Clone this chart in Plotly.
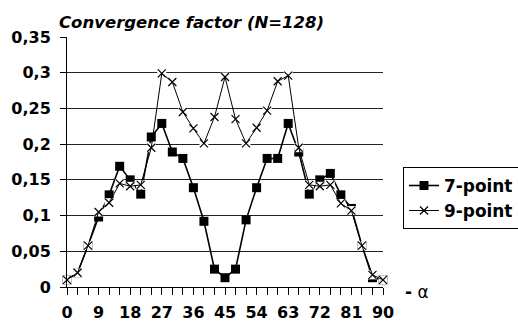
import plotly.graph_objects as go

alpha = list(range(0, 91, 3))
seven_point = [0.010, 0.020, 0.058, 0.098, 0.129, 0.169, 0.150, 0.130, 0.210, 0.229,
               0.189, 0.180, 0.139, 0.092, 0.025, 0.013, 0.025, 0.094, 0.139, 0.180,
               0.180, 0.229, 0.189, 0.130, 0.150, 0.159, 0.129, 0.110, 0.058, 0.013, 0.010]
nine_point = [0.010, 0.020, 0.058, 0.105, 0.118, 0.145, 0.141, 0.143, 0.195, 0.299,
              0.287, 0.245, 0.222, 0.201, 0.238, 0.294, 0.235, 0.201, 0.223, 0.247,
              0.288, 0.296, 0.195, 0.143, 0.141, 0.143, 0.117, 0.107, 0.058, 0.017, 0.010]

x_tick_vals = alpha
x_tick_text = [str(v) if v % 9 == 0 else "" for v in alpha]
y_tick_vals = [0, 0.05, 0.1, 0.15, 0.2, 0.25, 0.3, 0.35]
y_tick_text = ["0", "0,05", "0,1", "0,15", "0,2", "0,25", "0,3", "0,35"]

FONT = "DejaVu Sans"

fig = go.Figure()
fig.add_trace(go.Scatter(
    x=alpha, y=seven_point, name="<b>7-point</b>", mode="lines+markers",
    line=dict(color="black", width=1.6),
    marker=dict(symbol="square", size=9, color="black", line=dict(width=0)),
    cliponaxis=False,
))
# white background boxes behind the x markers (as in the spreadsheet chart)
fig.add_trace(go.Scatter(
    x=alpha, y=nine_point, mode="markers", showlegend=False, hoverinfo="skip",
    marker=dict(symbol="square", size=9, color="white", line=dict(width=0)),
    cliponaxis=False,
))
fig.add_trace(go.Scatter(
    x=alpha, y=nine_point, name="<b>9-point</b>", mode="lines+markers",
    line=dict(color="black", width=1),
    marker=dict(symbol="x-thin", size=8, color="black", line=dict(width=1.2, color="black")),
    cliponaxis=False,
))

fig.update_layout(
    width=518, height=325,
    margin=dict(l=67, r=135, t=37, b=38),
    paper_bgcolor="white", plot_bgcolor="white",
    font=dict(family=FONT, color="black"),
    title=dict(
        text="<b><i>Convergence factor (N=128)</i></b>",
        font=dict(family=FONT, size=16.5, color="black"),
        xref="container", yref="container",
        x=59 / 518, xanchor="left", y=1 - 22 / 325, yanchor="middle",
    ),
    legend=dict(
        xref="container", yref="container",
        x=403 / 518, xanchor="left", y=1 - 167 / 325, yanchor="top",
        bordercolor="black", borderwidth=1, bgcolor="white",
        font=dict(family=FONT, size=22 / 1.3, color="black", weight="bold"),
        tracegroupgap=0,
    ),
    showlegend=True,
    xaxis=dict(
        range=[0, 90], tickmode="array", tickvals=x_tick_vals, ticktext=x_tick_text,
        ticks="outside", ticklen=7, tickcolor="black", tickwidth=1,
        showline=True, linecolor="black", linewidth=1,
        showgrid=False, zeroline=False, automargin=False,
        tickfont=dict(family=FONT, size=16, color="black", weight="bold"),
        ticklabelstandoff=4,
    ),
    yaxis=dict(
        range=[0, 0.35], tickmode="array", tickvals=y_tick_vals, ticktext=y_tick_text,
        ticks="outside", ticklen=6, tickcolor="black", tickwidth=1,
        showline=True, linecolor="black", linewidth=1, automargin=False,
        showgrid=True, gridcolor="#222", gridwidth=1, zeroline=False,
        tickfont=dict(family=FONT, size=16, color="black", weight="bold"),
        ticklabelstandoff=6,
    ),
    annotations=[dict(
        text="<b>-</b> α", xref="paper", yref="paper",
        x=(403 - 67) / 316, y=(287 - 292) / 250,
        xanchor="left", yanchor="middle", showarrow=False,
        font=dict(family=FONT, size=17, color="black"),
    )],
)

fig.write_html("out.html")
